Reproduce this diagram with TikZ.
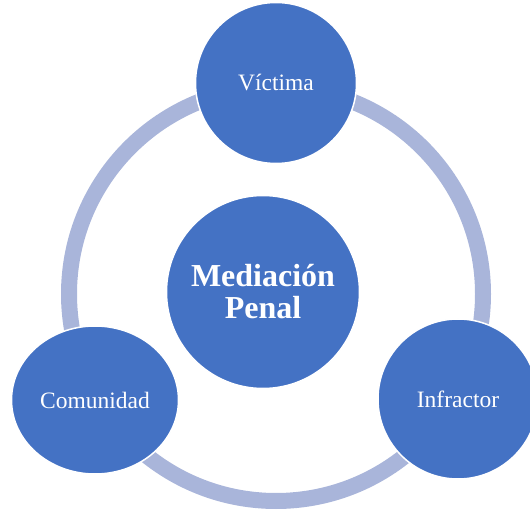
\documentclass[tikz,border=0pt]{standalone}
\usepackage{fontspec}
\setmainfont{Liberation Serif}
\usepackage{tikz}
\usetikzlibrary{shapes.geometric}
\definecolor{medblue}{RGB}{68,114,196}
\definecolor{ringblue}{RGB}{169,181,218}
\tikzset{
  partnode/.style = {circle, draw=white, line width=1.5pt, fill=medblue, text=white, align=center, inner sep=0pt, font=\fontsize{23.5}{25}\selectfont},
  mainnode/.style = {partnode, minimum size=193pt, font=\fontsize{32}{32}\selectfont\bfseries},
  ringline/.style = {draw=ringblue, line width=16pt}
}
\begin{document}
\begin{tikzpicture}[x=1pt, y=-1pt]
    \useasboundingbox (0,0) rectangle (530,510);
    \coordinate (ringc) at (276,294);
    \draw[ringline] (ringc) circle (207pt);
    \node[partnode, minimum size=161pt] (victima) at (276,83) {V\'ictima};
    \node[partnode, ellipse, minimum width=167pt, minimum height=148pt] (comunidad) at (95,400) {Comunidad};
    \node[partnode, minimum size=160pt] (infractor) at (458,399) {Infractor};
    \node[mainnode] (mediacion) at (263,292) {Mediaci\'on\\Penal};
\end{tikzpicture}
\end{document}
